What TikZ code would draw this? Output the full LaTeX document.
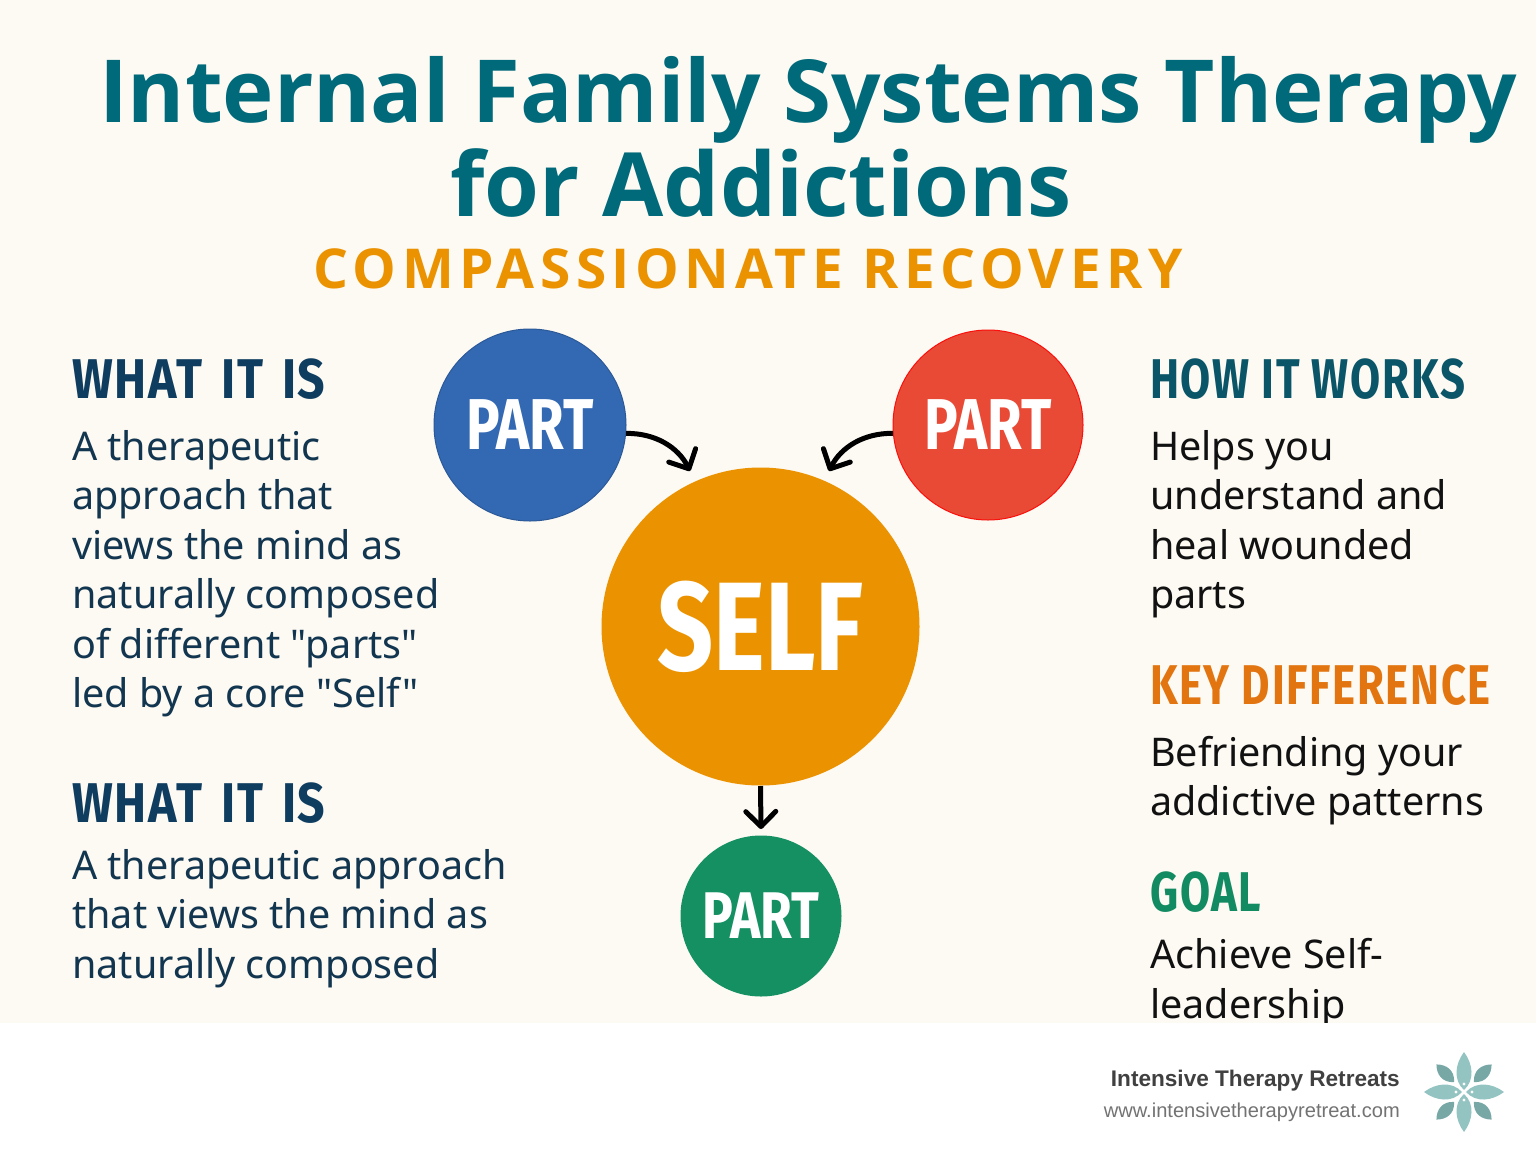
\documentclass[tikz,border=0pt]{standalone}
\usepackage{fontspec}
\usetikzlibrary{arrows.meta}
\newfontfamily\bodyf{Noto Sans}
\newfontfamily\titlef{Open Sans}
\newfontfamily\subf[LetterSpace=10]{Open Sans}
\newfontfamily\headf[FakeStretch=0.78,LetterSpace=3]{Fira Sans}
\newfontfamily\headwf[FakeStretch=0.86,LetterSpace=3]{Fira Sans}
\newfontfamily\partf[FakeStretch=0.78]{Fira Sans}
\newfontfamily\footf{Liberation Sans}
\definecolor{bgc}{HTML}{FDF9F3}
\definecolor{teal}{HTML}{006A7A}
\definecolor{amber}{HTML}{EB9200}
\definecolor{navy}{HTML}{0F3D60}
\definecolor{bodyc}{HTML}{12364F}
\definecolor{darkteal}{HTML}{0A5568}
\definecolor{orangeh}{HTML}{E27510}
\definecolor{greenh}{HTML}{128A62}
\definecolor{inkc}{HTML}{111111}
\definecolor{bluep}{HTML}{3369B3}
\definecolor{redp}{HTML}{E94A36}
\definecolor{greenp}{HTML}{149063}
\definecolor{petal}{HTML}{93C4C1}
\definecolor{petald}{HTML}{78A8A6}
\tikzset{
  x=1pt,y=1pt,
  ttl/.style={font=\titlef\bfseries\fontsize{87}{92}\selectfont,text=teal,inner sep=0pt,anchor=base},
  sub/.style={font=\subf\bfseries\fontsize{55}{60}\selectfont,text=amber,inner sep=0pt,anchor=base},
  hd/.style={font=\headf\bfseries\fontsize{56}{60}\selectfont,inner sep=0pt,anchor=base west},
  hdw/.style={font=\headwf\bfseries\fontsize{56}{60}\selectfont,text=navy,inner sep=0pt,anchor=base west},
  txt/.style={font=\bodyf\fontsize{39.5}{49.5}\selectfont,align=left,inner sep=0pt,anchor=base west},
  part/.style={circle,inner sep=0pt,text=white,font=\partf\bfseries\fontsize{72}{74}\selectfont,line width=1pt},
  flow/.style={draw=black,line width=5pt,-{Straight Barb[round,length=15pt,width=30pt]}},
  petalL/.style={fill=petal,draw=none},
  petalS/.style={fill=petald,draw=none}
}
\begin{document}
\begin{tikzpicture}
\useasboundingbox (0,0) rectangle (1536,-1154);
\fill[bgc] (0,0) rectangle (1536,-1154);
\node[ttl] (t1) at (808,-122) {Internal Family Systems Therapy};
\node[ttl,font=\titlef\bfseries\fontsize{88.7}{92}\selectfont] (t2) at (761,-216) {for Addictions};
\node[sub] (st) at (748,-288) {COMPASSIONATE RECOVERY};

\node[hdw] (h1) at (72,-398) {WHAT\hspace{6pt} IT\hspace{6pt} IS};
\node[txt,text=bodyc] (b1) at (72,-707.5) {A therapeutic\\approach that\\views the mind as\\naturally composed\\of different "parts"\\led by a core "Self"};
\node[hdw] (h2) at (72,-822) {WHAT\hspace{6pt} IT\hspace{6pt} IS};
\node[txt,text=bodyc] (b2) at (72,-978) {A therapeutic approach\\that views the mind as\\naturally composed};

\node[hd,text=darkteal] (h3) at (1150,-398) {HOW IT WORKS};
\node[txt,text=inkc] (b3) at (1150,-608.5) {Helps you\\understand and\\heal wounded\\parts};
\node[hd,text=orangeh] (h4) at (1150,-704) {KEY DIFFERENCE};
\node[txt,text=inkc] (b4) at (1150,-815.5) {Befriending your\\addictive patterns};
\node[hd,text=greenh] (h5) at (1150,-911) {GOAL};
\node[txt,text=inkc] (b5) at (1150,-1018) {Achieve Self-\\leadership};

\node[part,fill=bluep,draw=bluep!85!black,minimum size=192pt] (pa) at (530,-425) {PART};
\node[part,fill=redp,draw=red!80!redp,minimum size=190pt] (pb) at (988,-425) {PART};
\node[part,fill=amber,minimum size=318pt,font=\partf\bfseries\fontsize{126}{130}\selectfont] (self) at (760.5,-626.5) {SELF};
\node[part,fill=greenp,minimum size=161pt,font=\partf\bfseries\fontsize{66}{68}\selectfont] (pc) at (761,-916) {PART};

\coordinate (ta) at (690,-471);
\coordinate (tb) at (829,-471);
\coordinate (tc) at (761,-829);
\draw[flow] (pa.-5) .. controls (655,-433) and (678,-447) .. (ta);
\draw[flow] (pb.185) .. controls (864,-433) and (841,-447) .. (tb);
\draw[flow] (self.south) -- (tc);

\fill[white] (0,-1023) rectangle (1536,-1154);
\node[font=\footf\bfseries\fontsize{22.6}{26}\selectfont,text=black!75,inner sep=0pt,anchor=base east] (f1) at (1400,-1086) {Intensive Therapy Retreats};
\node[font=\footf\fontsize{20.1}{24}\selectfont,text=black!55,inner sep=0pt,anchor=base east] (f2) at (1400,-1117) {www.intensivetherapyretreat.com};

\begin{scope}[shift={(1464,-1092)}]
\foreach \a in {45,135,225,315}
  \fill[petalS,rotate=\a] (14,0) .. controls (22,9) and (32,7) .. (39,0) .. controls (32,-7) and (22,-9) .. (14,0) -- cycle;
\foreach \a in {0,90,180,270}{
  \fill[petalL,rotate=\a] (2,0) .. controls (12,11) and (28,9) .. (40,0) .. controls (28,-9) and (12,-11) .. (2,0) -- cycle;
  \fill[white,rotate=\a] (8,0) circle (1.6);
}
\end{scope}
\end{tikzpicture}
\end{document}
